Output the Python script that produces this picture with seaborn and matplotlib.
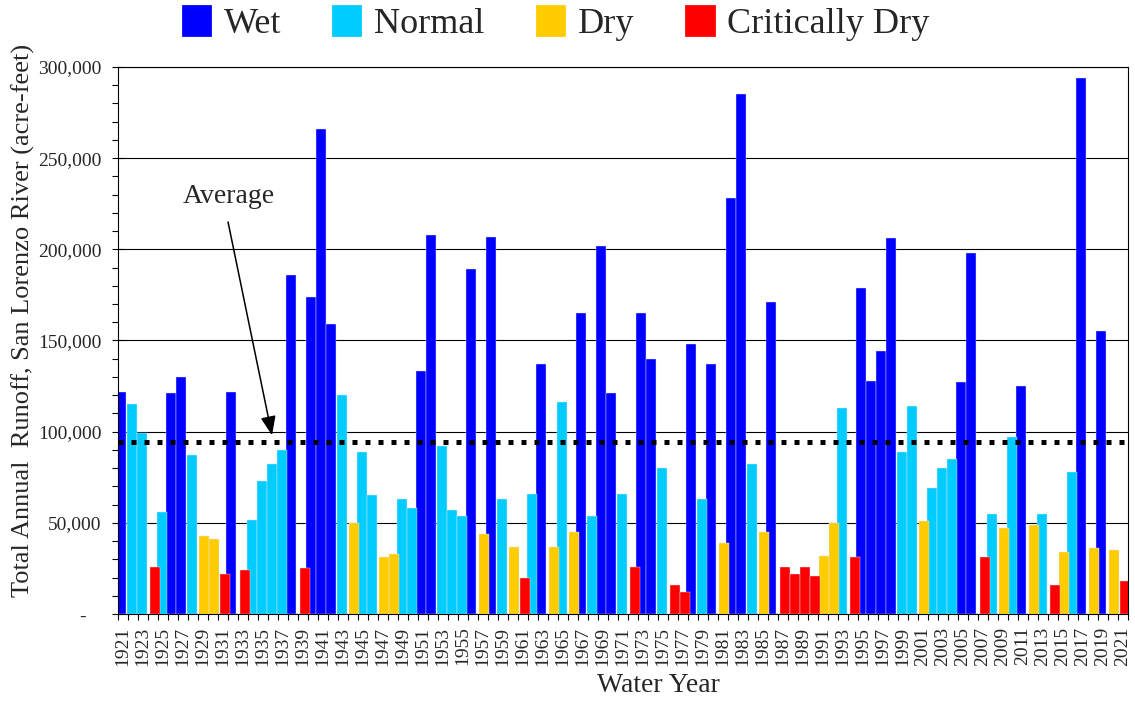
import matplotlib
matplotlib.use("Agg")
import matplotlib.pyplot as plt
import seaborn as sns
import pandas as pd
import numpy as np
from matplotlib.patches import Patch
from matplotlib.ticker import MultipleLocator, FixedLocator, FuncFormatter

# ---------------- data ----------------
years = list(range(1921, 2022))

year_type = [
    "Wet", "Normal", "Normal", "Critically Dry", "Normal", "Wet", "Wet", "Normal", "Dry", "Dry",            # 1921-1930
    "Critically Dry", "Wet", "Critically Dry", "Normal", "Normal", "Normal", "Normal", "Wet", "Critically Dry", "Wet",  # 1931-1940
    "Wet", "Wet", "Normal", "Dry", "Normal", "Normal", "Dry", "Dry", "Normal", "Normal",                    # 1941-1950
    "Wet", "Wet", "Normal", "Normal", "Normal", "Wet", "Dry", "Wet", "Normal", "Dry",                       # 1951-1960
    "Critically Dry", "Normal", "Wet", "Dry", "Normal", "Dry", "Wet", "Normal", "Wet", "Wet",               # 1961-1970
    "Normal", "Critically Dry", "Wet", "Wet", "Normal", "Critically Dry", "Critically Dry", "Wet", "Normal", "Wet",  # 1971-1980
    "Dry", "Wet", "Wet", "Normal", "Dry", "Wet", "Critically Dry", "Critically Dry", "Critically Dry", "Critically Dry",  # 1981-1990
    "Dry", "Dry", "Normal", "Critically Dry", "Wet", "Wet", "Wet", "Wet", "Normal", "Normal",               # 1991-2000
    "Dry", "Normal", "Normal", "Normal", "Wet", "Wet", "Critically Dry", "Normal", "Dry", "Normal",          # 2001-2010
    "Wet", "Dry", "Normal", "Critically Dry", "Dry", "Normal", "Wet", "Dry", "Wet", "Dry",                  # 2011-2020
    "Critically Dry",                                                                                       # 2021
]

runoff = [
    122000, 115000, 99000, 26000, 56000, 121000, 130000, 87000, 43000, 41000,
    22000, 122000, 24000, 51500, 73000, 82000, 90000, 186000, 25000, 174000,
    266000, 159000, 120000, 50000, 89000, 65000, 31000, 33000, 63000, 58000,
    133000, 208000, 92000, 57000, 54000, 189000, 44000, 207000, 63000, 37000,
    20000, 66000, 137000, 37000, 116000, 45000, 165000, 54000, 202000, 121000,
    66000, 26000, 165000, 140000, 80000, 16000, 12000, 148000, 63000, 137000,
    39000, 228000, 285000, 82000, 45000, 171000, 26000, 22000, 26000, 21000,
    32000, 50000, 113000, 31000, 179000, 128000, 144000, 206000, 89000, 114000,
    51000, 69000, 80000, 85000, 127000, 198000, 31000, 55000, 47000, 97000,
    125000, 49000, 55000, 16000, 34000, 78000, 294000, 36000, 155000, 35000,
    18000,
]

average_runoff = 94400

type_order = ["Wet", "Normal", "Dry", "Critically Dry"]
type_colors = ["#0000FF", "#00CCFF", "#FFCC00", "#FF0000"]

xtick_years = years[::2]
xtick_labels = [str(y) for y in xtick_years]

# ---------------- style ----------------
sns.set_style("ticks")
plt.rcParams["font.family"] = ["Liberation Serif", "DejaVu Serif"]

df = pd.DataFrame({"Water Year": years, "Type": year_type, "Runoff": runoff})

fig, ax = plt.subplots(figsize=(11.35, 7.03), dpi=100)
fig.subplots_adjust(left=0.104, right=0.9938, top=0.9047, bottom=0.1266)

sns.barplot(
    data=df, x="Water Year", y="Runoff", hue="Type",
    hue_order=type_order, palette=dict(zip(type_order, type_colors)),
    dodge=False, native_scale=True, width=1.0, errorbar=None, saturation=1,
    edgecolor="#dfe6ff", linewidth=0.3, legend=False, ax=ax, zorder=2,
)

# Excel-like series overlap: shift each series slightly within its slot
series_shift = [-0.22, -0.07, 0.07, 0.22]
for container, shift in zip(ax.containers, series_shift):
    for bar in container:
        bar.set_x(bar.get_x() + shift)
        bar.set_joinstyle("round")

# average line
ax.axhline(average_runoff, color="black", lw=3.6, linestyle=(0, (1, 1.6)), zorder=5)

# annotation
ax.text(1931.6, 229000, "Average", ha="center", va="center", fontsize=20)
ax.annotate(
    "", xy=(1935.9, 98000), xytext=(1931.5, 215000),
    arrowprops=dict(arrowstyle="-|>,head_length=0.58,head_width=0.23",
                    color="black", lw=1.1, mutation_scale=20,
                    shrinkA=0, shrinkB=0),
    zorder=6,
)

# axes limits & ticks
ax.set_xlim(1920.5, 2021.5)
ax.set_ylim(0, 300000)

ax.set_xticks(xtick_years)
ax.set_xticklabels(xtick_labels, rotation=90)
ax.xaxis.set_minor_locator(FixedLocator(np.arange(1920.5, 2022.0, 1.0)))
ax.tick_params(axis="x", which="major", length=0, pad=9, labelsize=14)
ax.tick_params(axis="x", which="minor", length=4, width=0.8, direction="out", color="black")

ax.yaxis.set_major_locator(MultipleLocator(50000))
ax.yaxis.set_minor_locator(MultipleLocator(10000))
ax.yaxis.set_major_formatter(FuncFormatter(lambda v, p: "-   " if v == 0 else f"{v:,.0f}"))
ax.tick_params(axis="y", which="major", direction="inout", length=8, width=0.8, pad=8,
               labelsize=14, color="black")
ax.tick_params(axis="y", which="minor", direction="out", length=4, width=0.8, color="black")

ax.yaxis.grid(True, which="major", color="black", lw=0.8, zorder=0)
ax.set_axisbelow(True)

for s in ax.spines.values():
    s.set_visible(True)
    s.set_color("black")
    s.set_linewidth(0.8)

ax.set_xlabel("Water Year", fontsize=20)
ax.set_ylabel("Total Annual  Runoff, San Lorenzo River (acre-feet)", fontsize=19)
ax.xaxis.set_label_coords(0.535, -0.108)
ax.yaxis.set_label_coords(-0.082, 0.537)

# legend
handles = [Patch(facecolor=c, edgecolor=c, linewidth=2, joinstyle="round") for c in type_colors]
fig.legend(handles, type_order, loc="center", bbox_to_anchor=(0.49, 0.967), ncol=4,
           frameon=False, fontsize=26, handlelength=0.75, handleheight=0.85,
           handletextpad=0.38, columnspacing=1.45, borderaxespad=0)

fig.savefig("out.png", dpi=100)
